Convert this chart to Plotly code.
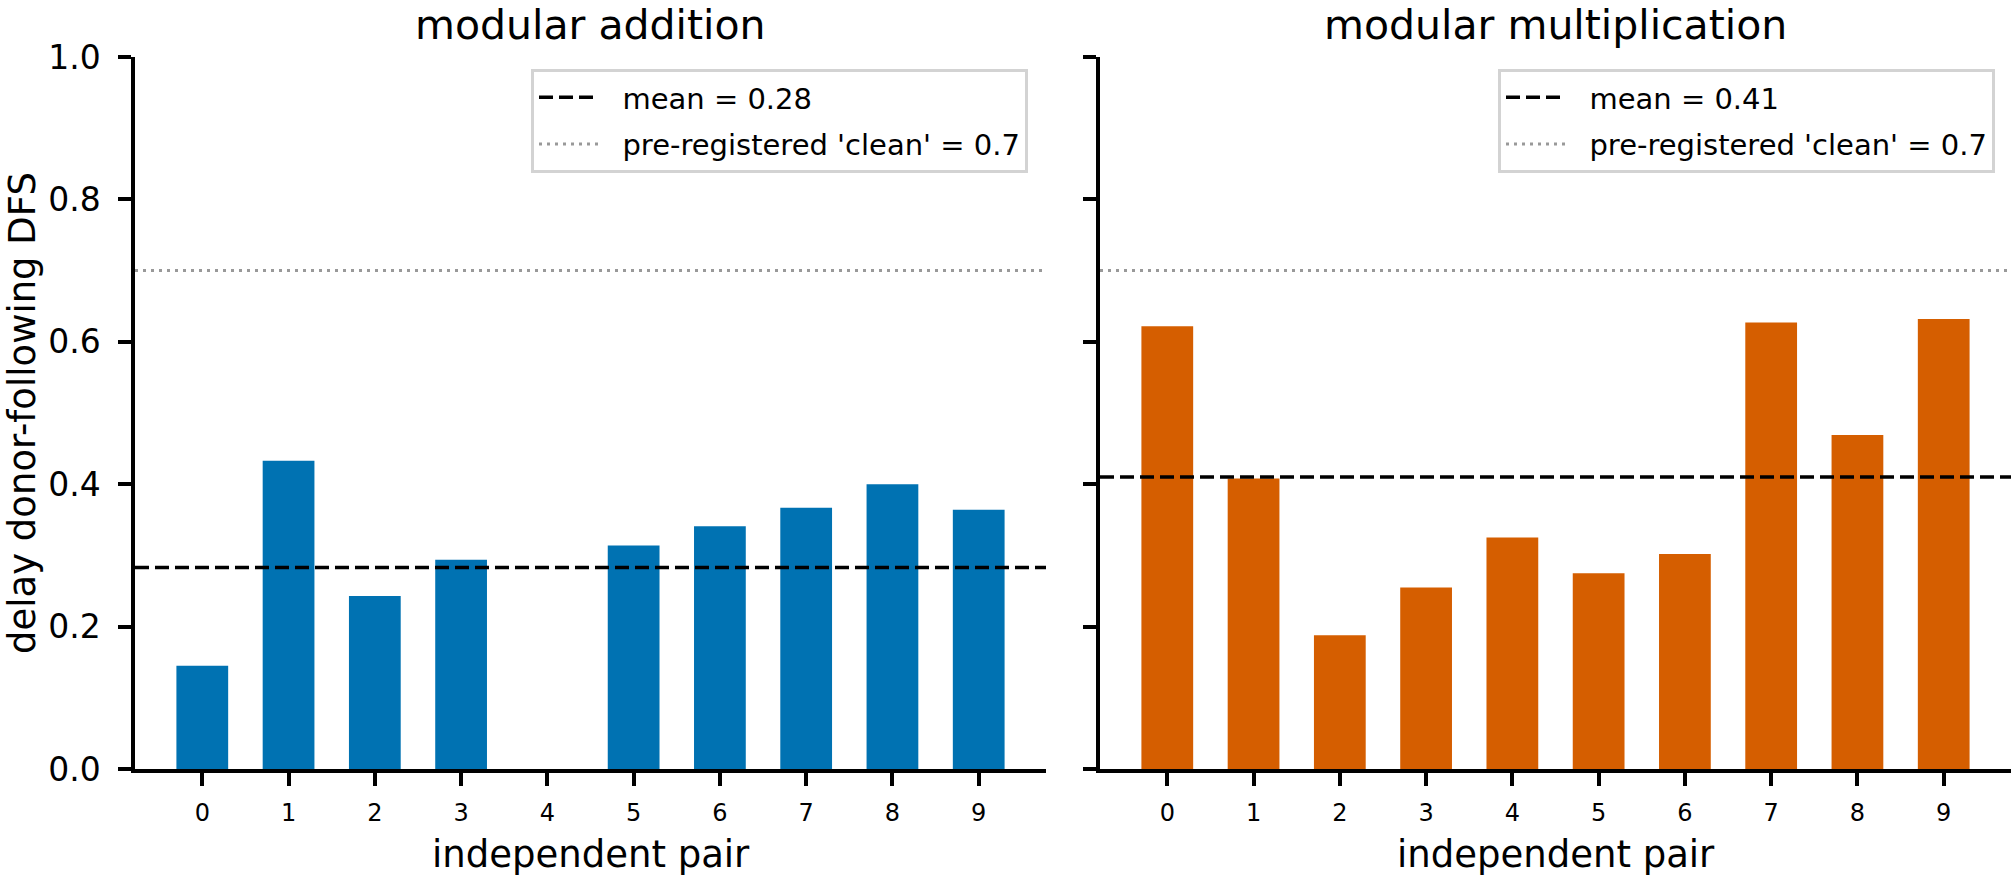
import plotly.graph_objects as go

# ---- data ----
pairs = [0, 1, 2, 3, 4, 5, 6, 7, 8, 9]
tick_labels = ["0", "1", "2", "3", "4", "5", "6", "7", "8", "9"]
dfs_addition = [0.145, 0.433, 0.243, 0.294, 0.0, 0.314, 0.341, 0.367, 0.400, 0.364]
dfs_multiplication = [0.622, 0.408, 0.188, 0.255, 0.325, 0.275, 0.302, 0.627, 0.469, 0.632]
mean_addition = 0.283
mean_multiplication = 0.41
clean_threshold = 0.7
panel_titles = ["modular addition", "modular multiplication"]
mean_labels = ["mean = 0.28", "mean = 0.41"]
clean_label = "pre-registered 'clean' = 0.7"
x_title = "independent pair"
y_title = "delay donor-following DFS"
y_ticks = [0.0, 0.2, 0.4, 0.6, 0.8, 1.0]
y_tick_text = ["0.0", "0.2", "0.4", "0.6", "0.8", "1.0"]

# ---- style ----
W, H = 2012, 876
FONT = "DejaVu Sans"
BLUE = "#0072B2"
ORANGE = "#D55E00"
BAR_W = 0.6
X_RANGE = [-0.78, 9.78]
LEG_PAD = "\u00a0\u00a0"  # visual gap between legend sample and label

def px_x(p):
    return p / W

def px_y(p):
    return 1 - p / H

fig = go.Figure()

panels = [
    ("x", "y", "legend", dfs_addition, BLUE, mean_addition, mean_labels[0]),
    ("x2", "y2", "legend2", dfs_multiplication, ORANGE, mean_multiplication, mean_labels[1]),
]

for i, (xa, ya, lg, vals, col, mval, mlab) in enumerate(panels):
    fig.add_trace(go.Bar(
        x=pairs, y=vals, width=BAR_W, marker=dict(color=col, line=dict(width=0)),
        xaxis=xa, yaxis=ya, showlegend=False, hoverinfo="x+y",
    ))
    fig.add_trace(go.Scatter(
        x=X_RANGE, y=[mval, mval], mode="lines",
        line=dict(color="black", width=3.5, dash="14px,6px"),
        name=LEG_PAD + mlab, xaxis=xa, yaxis=ya, legend=lg, showlegend=True,
        legendgroup=f"mean{i}",
    ))
    fig.add_trace(go.Scatter(
        x=X_RANGE, y=[clean_threshold, clean_threshold], mode="lines",
        line=dict(color="#999999", width=3, dash="3px,5px"),
        name=LEG_PAD + clean_label, xaxis=xa, yaxis=ya, legend=lg, showlegend=True,
        legendgroup=f"clean{i}",
    ))

axis_common = dict(
    showline=True, linecolor="black", linewidth=3.5,
    ticks="outside", ticklen=13, tickwidth=3.5, tickcolor="black",
    showgrid=False, zeroline=False, automargin=False,
)

dom1 = [px_x(135), px_x(1046)]
dom2 = [px_x(1100), px_x(2011)]
ydom = [px_y(769), px_y(57)]

legend_common = dict(
    xanchor="right", y=px_y(69), yanchor="top",
    bgcolor="white", bordercolor="#d3d3d3", borderwidth=3,
    font=dict(size=29, family=FONT, color="black"), itemwidth=60,
    tracegroupgap=6, traceorder="grouped",
)

fig.update_layout(
    width=W, height=H,
    margin=dict(l=0, r=0, t=0, b=0, pad=0, autoexpand=False),
    paper_bgcolor="white", plot_bgcolor="white",
    font=dict(family=FONT, color="black"),
    barmode="overlay",
    xaxis=dict(domain=dom1, range=X_RANGE, anchor="y", tickvals=pairs, ticktext=tick_labels,
               tickfont=dict(size=24, family=FONT), ticklabelstandoff=6, **axis_common),
    yaxis=dict(domain=ydom, range=[0, 1], anchor="x", tickvals=y_ticks, ticktext=y_tick_text,
               tickfont=dict(size=33, family=FONT), ticklabelstandoff=11, **axis_common),
    xaxis2=dict(domain=dom2, range=X_RANGE, anchor="y2", tickvals=pairs, ticktext=tick_labels,
                tickfont=dict(size=24, family=FONT), ticklabelstandoff=6, **axis_common),
    yaxis2=dict(domain=ydom, range=[0, 1], anchor="x2", tickvals=y_ticks, showticklabels=False,
                **axis_common),
    legend=dict(x=px_x(1028), **legend_common),
    legend2=dict(x=px_x(1995), **legend_common),
)

annotations = [
    dict(text=panel_titles[0], x=(dom1[0] + dom1[1]) / 2, y=px_y(25), xref="paper", yref="paper",
         xanchor="center", yanchor="middle", showarrow=False, font=dict(size=41, family=FONT)),
    dict(text=panel_titles[1], x=(dom2[0] + dom2[1]) / 2, y=px_y(25), xref="paper", yref="paper",
         xanchor="center", yanchor="middle", showarrow=False, font=dict(size=41, family=FONT)),
    dict(text=x_title, x=(dom1[0] + dom1[1]) / 2, y=px_y(854), xref="paper", yref="paper",
         xanchor="center", yanchor="middle", showarrow=False, font=dict(size=37, family=FONT)),
    dict(text=x_title, x=(dom2[0] + dom2[1]) / 2, y=px_y(854), xref="paper", yref="paper",
         xanchor="center", yanchor="middle", showarrow=False, font=dict(size=37, family=FONT)),
    dict(text=y_title, x=px_x(22), y=(ydom[0] + ydom[1]) / 2, xref="paper", yref="paper",
         xanchor="center", yanchor="middle", textangle=-90, showarrow=False,
         font=dict(size=37, family=FONT)),
]
fig.update_layout(annotations=annotations)

fig.write_html("out.html")
